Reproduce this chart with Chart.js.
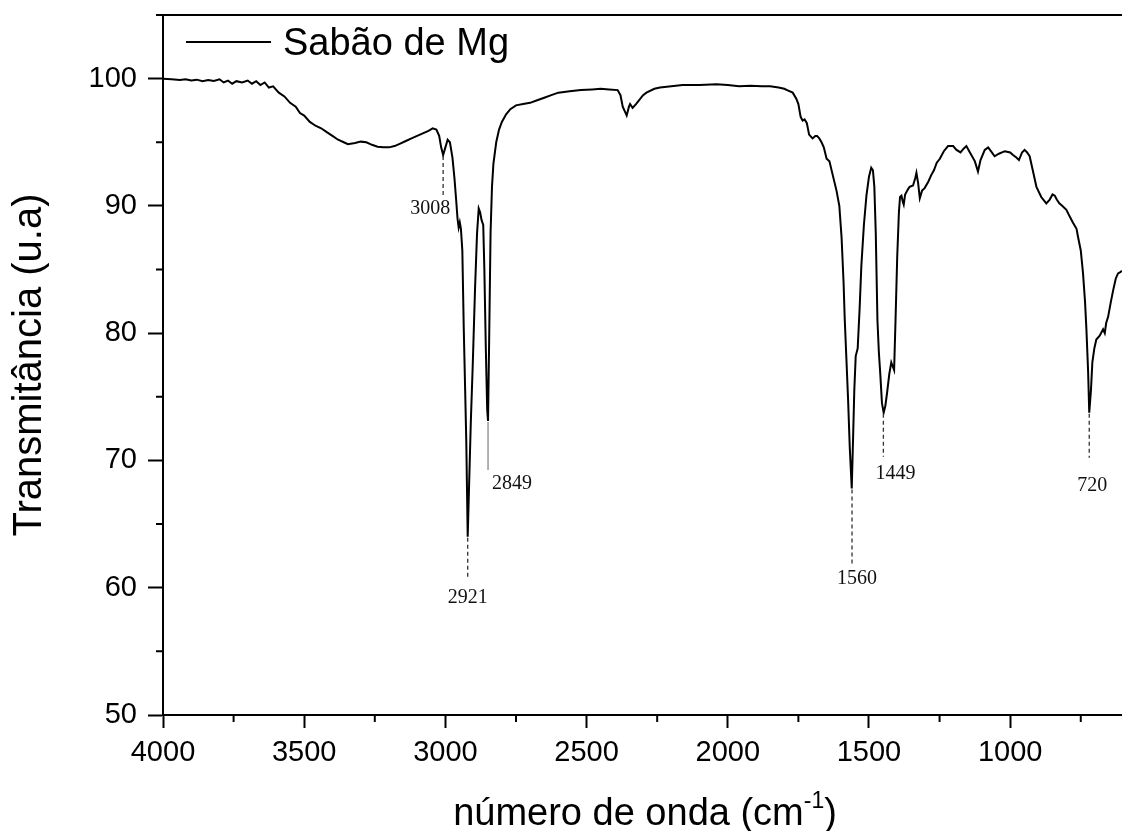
<!DOCTYPE html>
<html>
<head>
<meta charset="utf-8">
<script src="https://cdn.jsdelivr.net/npm/chart.js@4.4.1/dist/chart.umd.min.js"></script>
<style>
  html, body { margin: 0; padding: 0; background: #fff; }
</style>
</head>
<body>
<canvas id="c" width="1122" height="831"></canvas>
<script>
// FTIR spectrum, Sabão de Mg
const seriesLabel = 'Sabão de Mg'

const wavenumber = [
    4000, 3970, 3940, 3920, 3900, 3880, 3860, 3840, 3820, 3800,
    3785, 3770, 3755, 3740, 3720, 3700, 3685, 3670, 3655, 3640,
    3625, 3610, 3590, 3570, 3550, 3530, 3515, 3500, 3480, 3460,
    3440, 3420, 3400, 3380, 3360, 3345, 3320, 3300, 3280, 3260,
    3240, 3220, 3200, 3180, 3160, 3140, 3120, 3100, 3080, 3060,
    3045, 3032, 3022, 3015, 3008, 3000, 2992, 2984, 2975, 2968,
    2962, 2957, 2953, 2949, 2945, 2940, 2935, 2930, 2926, 2921,
    2916, 2910, 2903, 2895, 2888, 2882, 2877, 2872, 2866, 2862,
    2857, 2852, 2849, 2845, 2840, 2835, 2830, 2820, 2810, 2800,
    2785, 2770, 2750, 2725, 2700, 2675, 2650, 2625, 2600, 2560,
    2520, 2480, 2450, 2420, 2390, 2380, 2372, 2358, 2350, 2346,
    2337, 2325, 2318, 2300, 2288, 2260, 2240, 2200, 2160, 2100,
    2040, 2000, 1960, 1920, 1880, 1850, 1820, 1800, 1790, 1770,
    1757, 1750, 1742, 1735, 1728, 1720, 1712, 1700, 1690, 1684,
    1676, 1668, 1660, 1650, 1640, 1627, 1615, 1605, 1597, 1590,
    1586, 1580, 1574, 1568, 1561, 1556, 1552, 1547, 1540, 1533,
    1527, 1518, 1509, 1500, 1492, 1486, 1481, 1476, 1470, 1465,
    1460, 1454, 1448, 1442, 1436, 1428, 1421, 1416, 1411, 1406,
    1400, 1394, 1390, 1385, 1380, 1377, 1372, 1362, 1356, 1344,
    1336, 1332, 1326, 1320, 1312, 1303, 1290, 1280, 1270, 1260,
    1249, 1235, 1220, 1202, 1190, 1176, 1165, 1155, 1145, 1135,
    1125, 1114, 1105, 1090, 1078, 1065, 1055, 1040, 1019, 1000,
    990, 978, 969, 958, 949, 940, 931, 920, 907, 890,
    872, 860, 850, 842, 835, 826, 815, 801, 790, 778,
    765, 760, 750, 742, 735, 730, 724, 720, 714, 709,
    702, 695, 683, 671, 665, 660, 653, 644, 635, 626,
    618, 610, 604
]

const transmittance = [
    100.0, 99.95, 99.9, 99.95, 99.85, 99.92, 99.8, 99.9, 99.82, 99.95,
    99.7, 99.85, 99.6, 99.8, 99.7, 99.85, 99.6, 99.8, 99.5, 99.7,
    99.3, 99.4, 98.9, 98.6, 98.1, 97.8, 97.3, 97.1, 96.6, 96.3,
    96.1, 95.8, 95.5, 95.2, 95.0, 94.85, 94.95, 95.05, 95.0, 94.8,
    94.65, 94.6, 94.6, 94.7, 94.9, 95.1, 95.3, 95.5, 95.7, 95.9,
    96.1, 96.0, 95.5, 94.6, 94.0, 94.6, 95.2, 95.0, 93.8, 92.2,
    90.5, 89.0, 88.3, 88.7, 88.2, 86.5, 80.4, 75.5, 71.5, 64.0,
    68.1, 73.0, 77.6, 83.5, 87.8, 89.8, 89.5, 88.9, 88.5, 85.0,
    79.0, 74.0, 73.1, 79.5, 87.9, 91.5, 93.3, 95.0, 96.0, 96.6,
    97.2, 97.6, 97.9, 98.0, 98.1, 98.3, 98.5, 98.7, 98.9, 99.0,
    99.1, 99.15, 99.2, 99.15, 99.1, 98.7, 97.8, 97.1, 97.8, 98.0,
    97.7, 98.0, 98.2, 98.7, 98.9, 99.2, 99.3, 99.4, 99.5, 99.5,
    99.55, 99.5, 99.4, 99.45, 99.4, 99.4, 99.3, 99.2, 99.1, 98.9,
    98.4, 98.0, 97.0, 96.7, 96.8, 96.5, 95.6, 95.3, 95.5, 95.5,
    95.3, 95.0, 94.6, 93.7, 93.5, 92.3, 91.2, 90.0, 87.5, 84.0,
    81.2, 78.0, 74.8, 71.0, 67.8, 72.0, 75.5, 78.2, 78.8, 82.0,
    85.3, 88.5, 90.8, 92.3, 93.0, 92.8, 91.5, 87.9, 81.0, 78.5,
    76.8, 74.5, 73.75, 74.3, 75.3, 76.8, 77.7, 77.4, 77.1, 81.0,
    86.0, 89.5, 90.7, 90.8, 90.3, 90.1, 90.9, 91.3, 91.5, 91.6,
    92.2, 92.6, 91.8, 90.6, 91.2, 91.4, 91.9, 92.4, 92.8, 93.4,
    93.7, 94.3, 94.7, 94.7, 94.4, 94.2, 94.5, 94.7, 94.3, 93.9,
    93.5, 92.7, 93.6, 94.4, 94.6, 94.2, 93.9, 94.1, 94.3, 94.2,
    94.0, 93.8, 93.6, 94.2, 94.4, 94.2, 93.9, 92.8, 91.5, 90.7,
    90.2, 90.5, 90.9, 90.8, 90.5, 90.2, 90.0, 89.7, 89.2, 88.7,
    88.2, 87.6, 86.5, 84.7, 82.5, 80.3, 77.0, 73.75, 75.5, 77.7,
    78.8, 79.5, 79.8, 80.3, 80.0, 80.8, 81.3, 82.4, 83.4, 84.3,
    84.7, 84.8, 84.9
]

// marked bands: label, position (cm-1) and transmittance at the band minimum
const peakLabels = ['3008', '2921', '2849', '1560', '1449', '720']
const peakWavenumber = [3008, 2921, 2849, 1560, 1449, 720]
const peakMinimum = [94.0, 64.0, 73.1, 67.8, 73.75, 73.75]

// how each marker is drawn: leader length, label offset from leader end (px)
const peakStyle = [
    { len: 43, dx: -13, dy: 11, dash: true },
    { len: 41, dx: 0, dy: 20, dash: true },
    { len: 49, dx: 24, dy: 14, dash: false },
    { len: 77, dx: 5, dy: 13, dash: true },
    { len: 44, dx: 12, dy: 17, dash: true },
    { len: 45, dx: 3, dy: 28, dash: true },
]

const xMajorTicks = [4000, 3500, 3000, 2500, 2000, 1500, 1000]
const xMinorTicks = [3750, 3250, 2750, 2250, 1750, 1250, 750]
const yMajorTicks = [50, 60, 70, 80, 90, 100]
const yMinorTicks = [55, 65, 75, 85, 95, 105]

const SANS = '"Liberation Sans", Arial, sans-serif'
const SERIF = '"Liberation Serif", "Times New Roman", serif'

const points = wavenumber.map((wn, i) => ({ x: wn, y: transmittance[i] }))

// no extra padding from tick labels, so the plot box stays where we put it
function fixBox(s, size) {
    if (s.isHorizontal()) s.height = size
    else s.width = size
    s.paddingTop = 0
    s.paddingBottom = 0
    s.paddingLeft = 0
    s.paddingRight = 0
}

const extras = {
    id: 'extras',
    afterDraw(chart) {
        const { ctx, chartArea: a, scales: { x, y } } = chart
        ctx.save()

        // frame top + minor ticks
        ctx.strokeStyle = '#000'
        ctx.lineWidth = 2
        ctx.beginPath()
        ctx.moveTo(a.left, a.top)
        ctx.lineTo(a.right, a.top)
        for (const v of xMinorTicks) {
            const px = x.getPixelForValue(v)
            ctx.moveTo(px, a.bottom)
            ctx.lineTo(px, a.bottom + 7)
        }
        for (const v of yMinorTicks) {
            const py = y.getPixelForValue(v)
            ctx.moveTo(a.left - 7, py)
            ctx.lineTo(a.left, py)
        }
        ctx.stroke()

        // legend
        const ds = chart.data.datasets[0]
        ctx.beginPath()
        ctx.moveTo(186, 42)
        ctx.lineTo(271, 42)
        ctx.strokeStyle = ds.borderColor
        ctx.lineWidth = 2
        ctx.stroke()
        ctx.fillStyle = '#000'
        ctx.font = '38px ' + SANS
        ctx.textAlign = 'left'
        ctx.textBaseline = 'alphabetic'
        ctx.fillText(ds.label, 283, 55)

        // x axis title with superscript
        const t1 = 'número de onda (cm', t2 = '-1', t3 = ')'
        ctx.font = '38px ' + SANS
        const w1 = ctx.measureText(t1).width
        const w3 = ctx.measureText(t3).width
        ctx.font = '23px ' + SANS
        const w2 = ctx.measureText(t2).width
        const sx = 645 - (w1 + w2 + w3) / 2
        const base = 825
        ctx.font = '38px ' + SANS
        ctx.fillText(t1, sx, base)
        ctx.font = '23px ' + SANS
        ctx.fillText(t2, sx + w1, base - 17)
        ctx.font = '38px ' + SANS
        ctx.fillText(t3, sx + w1 + w2, base)

        // band markers
        ctx.font = '20px ' + SERIF
        ctx.textAlign = 'center'
        ctx.textBaseline = 'middle'
        peakLabels.forEach((lab, i) => {
            const st = peakStyle[i]
            const px = x.getPixelForValue(peakWavenumber[i])
            const py = y.getPixelForValue(peakMinimum[i])
            ctx.beginPath()
            ctx.strokeStyle = st.dash ? '#333' : '#666'
            ctx.lineWidth = st.dash ? 1.3 : 1
            ctx.setLineDash(st.dash ? [4, 3] : [])
            ctx.moveTo(px, py + 1)
            ctx.lineTo(px, py + st.len)
            ctx.stroke()
            ctx.setLineDash([])
            ctx.fillStyle = '#111'
            ctx.fillText(lab, px + st.dx, py + st.len + st.dy)
        })

        ctx.restore()
    }
}

new Chart(document.getElementById('c'), {
    type: 'line',
    data: {
        datasets: [{
            label: seriesLabel,
            data: points,
            borderColor: '#000',
            borderWidth: 2,
            pointRadius: 0,
            tension: 0,
            fill: false,
        }],
    },
    options: {
        responsive: false,
        animation: false,
        devicePixelRatio: 1,
        layout: { padding: { top: 15, left: 0, right: 0, bottom: 0 } },
        plugins: {
            legend: { display: false },
            tooltip: { enabled: false },
        },
        scales: {
            x: {
                type: 'linear',
                reverse: true,
                min: 604,
                max: 4000,
                afterFit: (s) => fixBox(s, 116),
                afterBuildTicks: (s) => { s.ticks = xMajorTicks.map(v => ({ value: v })) },
                border: { display: true, color: '#000', width: 2 },
                grid: { drawOnChartArea: false, drawTicks: true, tickLength: 13, tickColor: '#000', tickWidth: 2 },
                ticks: {
                    autoSkip: false,
                    maxRotation: 0,
                    padding: 8,
                    color: '#000',
                    font: { family: SANS, size: 29 },
                    callback: (v) => String(v),
                },
            },
            y: {
                type: 'linear',
                min: 50,
                max: 105,
                afterFit: (s) => fixBox(s, 163),
                afterBuildTicks: (s) => { s.ticks = yMajorTicks.map(v => ({ value: v })) },
                border: { display: true, color: '#000', width: 2 },
                grid: { drawOnChartArea: false, drawTicks: true, tickLength: 15, tickColor: '#000', tickWidth: 2 },
                ticks: {
                    padding: 11,
                    color: '#000',
                    font: { family: SANS, size: 29 },
                    callback: (v) => String(v),
                },
                title: {
                    display: true,
                    text: 'Transmitância (u.a)',
                    color: '#000',
                    font: { family: SANS, size: 40 },
                    padding: { top: 6, bottom: 0 },
                },
            },
        },
    },
    plugins: [extras],
})
</script>
</body>
</html>
